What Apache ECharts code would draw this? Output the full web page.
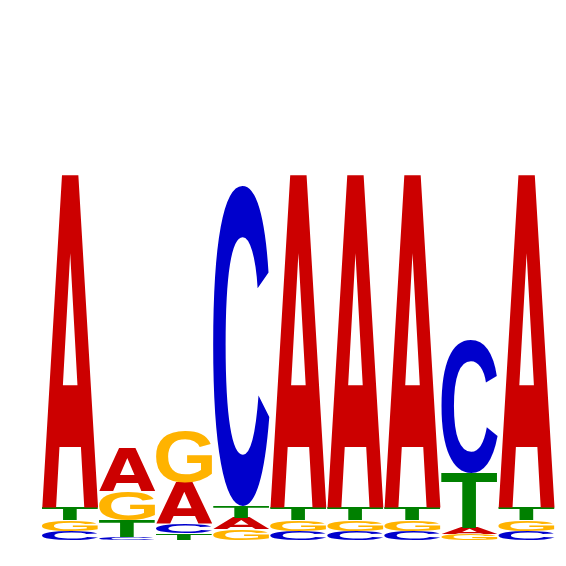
<!DOCTYPE html>
<html>
<head>
<meta charset="utf-8">
<style>
  html, body { margin: 0; padding: 0; background: #ffffff; }
  #chart { width: 566px; height: 566px; }
</style>
<script src="https://cdn.jsdelivr.net/npm/echarts@6/dist/echarts.min.js"></script>
</head>
<body>
<div id="chart"></div>
<script>
// Sequence logo data (information content in bits per letter)
const positions = ['1', '2', '3', '4', '5', '6', '7', '8', '9'];
const letters = ['A', 'C', 'G', 'T'];
const heightsA = [1.255, 0.162, 0.155, 0.043, 1.255, 1.255, 1.255, 0.024, 1.255];
const heightsC = [0.034, 0.011, 0.034, 1.211, 0.034, 0.034, 0.034, 0.502, 0.034];
const heightsG = [0.040, 0.109, 0.192, 0.040, 0.040, 0.040, 0.040, 0.022, 0.040];
const heightsT = [0.049, 0.064, 0.026, 0.045, 0.049, 0.049, 0.049, 0.208, 0.049];
const letterColors = { A: '#CC0000', C: '#0000CC', G: '#FFB300', T: '#008000' };

const heightsByLetter = { A: heightsA, C: heightsC, G: heightsG, T: heightsT };
const FS = 200;
const letterFonts = {
  A: 'bold ' + FS + 'px "DejaVu Sans", sans-serif',
  C: 'bold ' + FS + 'px "Liberation Sans", Arial, sans-serif',
  G: 'bold ' + FS + 'px "Liberation Sans", Arial, sans-serif',
  T: 'bold ' + FS + 'px "Liberation Sans", Arial, sans-serif'
};

// measure the ink box of each glyph (baseline 'middle', align 'left')
const inkBox = {};
(function () {
  const cv = document.createElement('canvas');
  const ctx = cv.getContext('2d');
  ctx.textBaseline = 'middle';
  ctx.textAlign = 'left';
  letters.forEach(function (L) {
    ctx.font = letterFonts[L];
    const m = ctx.measureText(L);
    inkBox[L] = {
      left: m.actualBoundingBoxLeft,
      right: m.actualBoundingBoxRight,
      ascent: m.actualBoundingBoxAscent,
      descent: m.actualBoundingBoxDescent
    };
  });
})();

const chart = echarts.init(document.getElementById('chart'), null, { renderer: 'canvas' });

function renderItem(params, api) {
  const idx = api.value(0);
  const stack = letters.map(function (L) { return { L: L, h: heightsByLetter[L][idx] }; })
    .sort(function (a, b) { return a.h - b.h; });
  const bandW = api.size([1, 0])[0];
  const center = api.coord([idx, 0]);
  const w = bandW * 0.985;
  const bx = center[0] - w / 2;
  let cum = 0;
  const children = [];
  stack.forEach(function (s) {
    const yBottom = api.coord([idx, cum])[1];
    const yTop = api.coord([idx, cum + s.h])[1];
    cum += s.h;
    const bh = yBottom - yTop;
    if (bh <= 0.2) return;
    const ib = inkBox[s.L];
    const sx = w / (ib.left + ib.right);
    const sy = bh / (ib.ascent + ib.descent);
    children.push({
      type: 'text',
      x: bx + sx * ib.left,
      y: yTop + sy * ib.ascent,
      scaleX: sx,
      scaleY: sy,
      silent: true,
      style: {
        text: s.L,
        x: 0,
        y: 0,
        font: letterFonts[s.L],
        fill: letterColors[s.L],
        align: 'left',
        verticalAlign: 'middle',
        lineHeight: FS
      }
    });
  });
  return { type: 'group', children: children };
}

chart.setOption({
  animation: false,
  backgroundColor: '#ffffff',
  grid: { left: 41.5, right: 11, top: 10, bottom: 26, containLabel: false },
  xAxis: {
    type: 'category',
    data: positions,
    show: false,
    boundaryGap: true
  },
  yAxis: {
    type: 'value',
    min: 0,
    max: 2,
    show: false
  },
  series: [{
    type: 'custom',
    renderItem: renderItem,
    data: positions.map(function (p, i) { return [i]; }),
    encode: { x: 0 },
    silent: true
  }]
});
</script>
</body>
</html>
